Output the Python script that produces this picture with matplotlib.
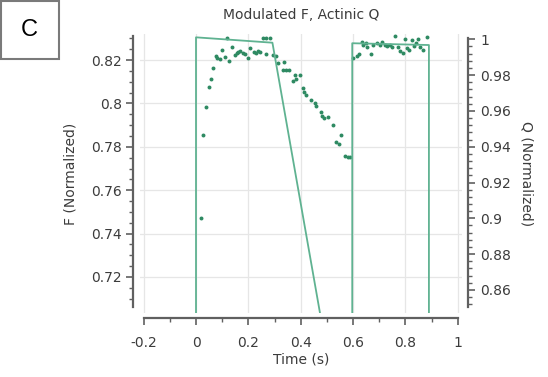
import matplotlib
matplotlib.use("Agg")
import matplotlib.pyplot as plt
from matplotlib.patches import Rectangle
from matplotlib.ticker import MultipleLocator, FixedLocator
import numpy as np

# ---- data ----
f_time = [0.018, 0.0255, 0.038, 0.0495, 0.057, 0.066, 0.076, 0.081, 0.0914, 0.098,
          0.110, 0.119, 0.127, 0.136, 0.149, 0.155, 0.161, 0.170, 0.180, 0.187,
          0.197, 0.206, 0.221, 0.229, 0.237, 0.246, 0.256, 0.267, 0.269, 0.282,
          0.295, 0.307, 0.314, 0.335, 0.333, 0.345, 0.355, 0.371, 0.377, 0.383,
          0.399, 0.409, 0.412, 0.422, 0.441, 0.453, 0.460, 0.479, 0.482, 0.490,
          0.504, 0.523, 0.536, 0.546, 0.555, 0.568, 0.580, 0.587,
          0.601, 0.614, 0.624, 0.633, 0.639, 0.650, 0.655, 0.669, 0.678, 0.690,
          0.703, 0.710, 0.722, 0.731, 0.741, 0.750, 0.760, 0.773, 0.780, 0.790,
          0.799, 0.805, 0.814, 0.824, 0.833, 0.841, 0.849, 0.856, 0.869, 0.884]
f_values = [0.7473, 0.7854, 0.7982, 0.8077, 0.8114, 0.8162, 0.8218, 0.8211, 0.8203, 0.8246,
            0.8215, 0.8300, 0.8197, 0.8259, 0.8223, 0.8234, 0.8238, 0.8243, 0.8234, 0.8228,
            0.8211, 0.8254, 0.8238, 0.8234, 0.8243, 0.8238, 0.8300, 0.8226, 0.8300, 0.8300,
            0.8223, 0.8218, 0.8185, 0.8192, 0.8154, 0.8154, 0.8154, 0.8105, 0.8131, 0.8111,
            0.8131, 0.8070, 0.8054, 0.8039, 0.8016, 0.8000, 0.7988, 0.7962, 0.7942, 0.7931,
            0.7936, 0.7900, 0.7823, 0.7811, 0.7854, 0.7758, 0.7754, 0.7751,
            0.8208, 0.8218, 0.8228, 0.8284, 0.8269, 0.8277, 0.8261, 0.8228, 0.8269, 0.8277,
            0.8269, 0.8284, 0.8269, 0.8265, 0.8269, 0.8261, 0.8311, 0.8259, 0.8243, 0.8231,
            0.8295, 0.8254, 0.8246, 0.8292, 0.8265, 0.8277, 0.8295, 0.8261, 0.8246, 0.8307]

q_time = [0.0, 0.0, 0.292, 0.597, 0.597, 0.890, 0.890]
q_values = [0.70, 1.0011, 0.9981, 0.7447, 0.9978, 0.9968, 0.70]

x_ticks = [-0.2, 0, 0.2, 0.4, 0.6, 0.8, 1]
x_ticklabels = ["-0.2", "0", "0.2", "0.4", "0.6", "0.8", "1"]
f_ticks = [0.72, 0.74, 0.76, 0.78, 0.80, 0.82]
f_ticklabels = ["0.72", "0.74", "0.76", "0.78", "0.8", "0.82"]
q_ticks = [0.86, 0.88, 0.90, 0.92, 0.94, 0.96, 0.98, 1.0]
q_ticklabels = ["0.86", "0.88", "0.9", "0.92", "0.94", "0.96", "0.98", "1"]

title = "Modulated F, Actinic Q"
xlabel = "Time (s)"
ylabel_left = "F (Normalized)"
ylabel_right = "Q (Normalized)"
panel = "C"

# ---- style ----
W, H = 548, 377
line_c = "#5fb291"
dot_c = "#2e8a62"
spine_c = "#606060"
text_c = "#3c3c3c"
grid_c = "#e6e6e6"

plt.rcParams['font.family'] = ['DejaVu Sans']
fig = plt.figure(figsize=(W / 100, H / 100), dpi=100)

L, R, T, B = 140, 462, 34, 313
pos = [L / W, 1 - B / H, (R - L) / W, (B - T) / H]
ax = fig.add_axes(pos)
ax2 = ax.twinx()
ax2.set_position(pos)

ax.set_xlim(-0.214, 1.0164)
ax.set_ylim(0.7034, 0.8320)
ax2.set_ylim(0.8471, 1.00296)

ax.grid(True, color=grid_c, lw=0.9)
ax.set_axisbelow(True)

ax.scatter(f_time, f_values, s=8, color=dot_c, zorder=3, linewidths=0)
ax2.plot(q_time, q_values, color=line_c, lw=1.3, zorder=2)

# ticks
ax.set_xticks(x_ticks)
ax.set_xticklabels(x_ticklabels)
ax.xaxis.set_minor_locator(MultipleLocator(0.1))
ax.set_yticks(f_ticks)
ax.set_yticklabels(f_ticklabels)
ax.yaxis.set_minor_locator(FixedLocator(np.arange(0.710, 0.8301, 0.005)))
ax2.set_yticks(q_ticks)
ax2.set_yticklabels(q_ticklabels)
ax2.yaxis.set_minor_locator(FixedLocator(np.arange(0.852, 1.0001, 0.004)))

for a in (ax, ax2):
    a.tick_params(which='major', length=5, width=1.2, color=spine_c,
                  labelcolor=text_c, labelsize=10)
    a.tick_params(which='minor', length=3, width=1.0, color=spine_c)
ax.tick_params(axis='x', which='major', pad=8)
ax.tick_params(axis='y', which='major', pad=3)
ax2.tick_params(axis='y', which='major', pad=4)

# spines
for s in ('top', 'right'):
    ax.spines[s].set_visible(False)
for s in ('top', 'left', 'bottom'):
    ax2.spines[s].set_visible(False)
ax.spines['left'].set_position(('outward', 5))
ax.spines['bottom'].set_position(('outward', 3.6))
ax2.spines['right'].set_position(('outward', 4.3))
ax.spines['left'].set_bounds(0.7062, 0.8311)
ax.spines['bottom'].set_bounds(-0.2, 1.0)
ax2.spines['right'].set_bounds(0.8506, 1.0007)
for sp in (ax.spines['left'], ax.spines['bottom'], ax2.spines['right']):
    sp.set_color(spine_c)
    sp.set_linewidth(1.6)

ax.set_xlabel(xlabel, fontsize=10, color=text_c, labelpad=2)
ax.set_ylabel(ylabel_left, fontsize=10, color=text_c, labelpad=10)
ax2.set_ylabel(ylabel_right, fontsize=10, color=text_c, rotation=270,
               labelpad=16)

fig.text(301 / W, 1 - 15 / H, title, ha='center', va='center',
         fontsize=10, color=text_c)

# panel label
fig.patches.append(Rectangle((0.5 / W, 1 - 59 / H), 58 / W, 58.5 / H,
                             transform=fig.transFigure, fill=False,
                             edgecolor="#7a7a7a", lw=1.5))
fig.text(29 / W, 1 - 30 / H, panel, ha='center', va='center', fontsize=17,
         family=['Liberation Sans'], color='black')

fig.savefig("out.png", dpi=100)
